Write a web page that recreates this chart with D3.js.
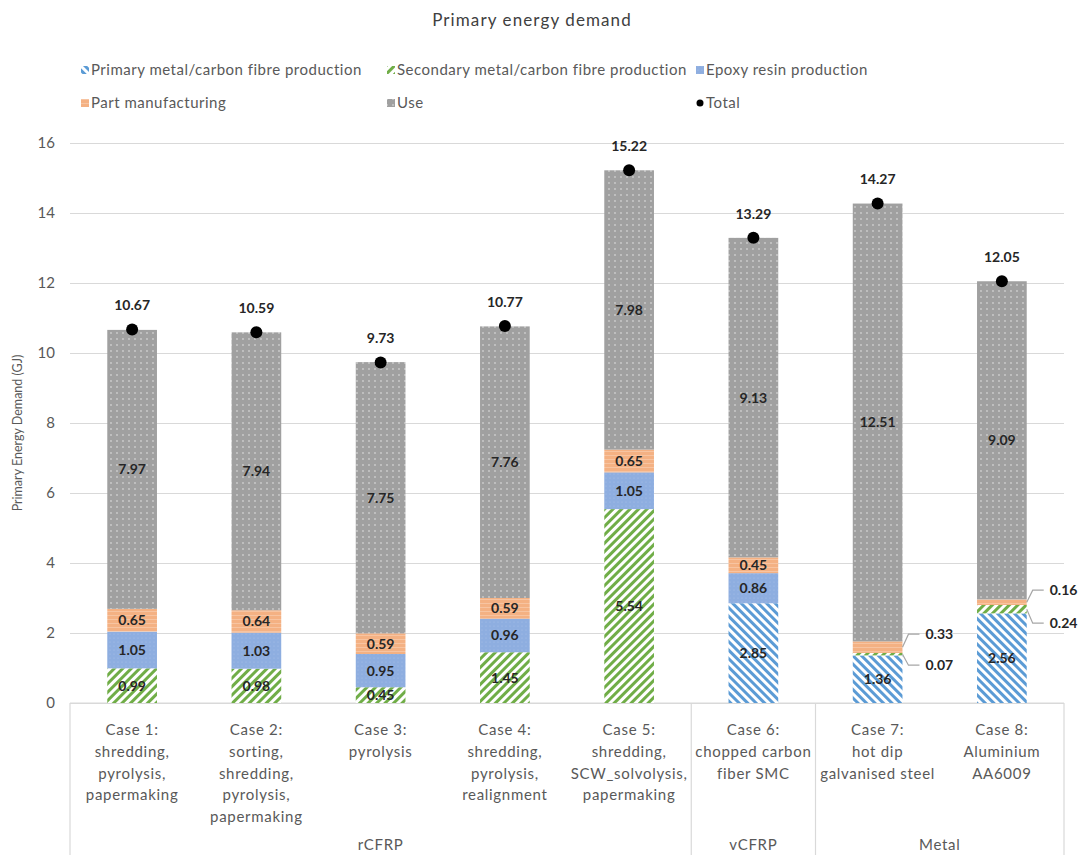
<!DOCTYPE html>
<html>
<head>
<meta charset="utf-8">
<script src="https://cdn.jsdelivr.net/npm/d3@7/dist/d3.min.js"></script>
<style>
  html, body { margin: 0; padding: 0; background: #fff; }
  svg { display: block; font-family: "Lato", "Open Sans", sans-serif; }
</style>
</head>
<body>
<svg id="chart" width="1081" height="855"></svg>
<script>
// ---- data -------------------------------------------------------------
const cases = ["Case 1", "Case 2", "Case 3", "Case 4", "Case 5", "Case 6", "Case 7", "Case 8"];
const caseLabels = [
  ["Case 1:", "shredding,", "pyrolysis,", "papermaking"],
  ["Case 2:", "sorting,", "shredding,", "pyrolysis,", "papermaking"],
  ["Case 3:", "pyrolysis"],
  ["Case 4:", "shredding,", "pyrolysis,", "realignment"],
  ["Case 5:", "shredding,", "SCW_solvolysis,", "papermaking"],
  ["Case 6:", "chopped carbon", "fiber SMC"],
  ["Case 7:", "hot dip", "galvanised steel"],
  ["Case 8:", "Aluminium", "AA6009"]
];
const groupNames = ["rCFRP", "vCFRP", "Metal"];
const groupOfCase = [0, 0, 0, 0, 0, 1, 2, 2];

const seriesNames = [
  "Primary metal/carbon fibre production",
  "Secondary metal/carbon fibre production",
  "Epoxy resin production",
  "Part manufacturing",
  "Use"
];
const primaryProduction   = [0, 0, 0, 0, 0, 2.85, 1.36, 2.56];
const secondaryProduction = [0.99, 0.98, 0.45, 1.45, 5.54, 0, 0.07, 0.24];
const epoxyProduction     = [1.05, 1.03, 0.95, 0.96, 1.05, 0.86, 0, 0];
const partManufacturing   = [0.65, 0.64, 0.59, 0.59, 0.65, 0.45, 0.33, 0.16];
const usePhase            = [7.97, 7.94, 7.75, 7.76, 7.98, 9.13, 12.51, 9.09];
const totals              = [10.67, 10.59, 9.73, 10.77, 15.22, 13.29, 14.27, 12.05];
const yTicks = [0, 2, 4, 6, 8, 10, 12, 14, 16];

// ---- layout -----------------------------------------------------------
const svg = d3.select("#chart");
const plot = { left: 70, right: 1064, top: 143, bottom: 703, boxBottom: 855 };
const textGrey = "#595959";
const gridGrey = "#d9d9d9";

const x = d3.scaleBand().domain(cases).range([plot.left, plot.right])
  .paddingInner(0.6).paddingOuter(0.3);
const y = d3.scaleLinear().domain([0, 16]).range([plot.bottom, plot.top]);
const step = x.step();
const slotLeft = c => x(c) - (step - x.bandwidth()) / 2;

// ---- fill patterns ----------------------------------------------------
const defs = svg.append("defs");
function stripes(id, color, angle) {
  const p = defs.append("pattern").attr("id", id).attr("patternUnits", "userSpaceOnUse")
    .attr("width", 6).attr("height", 6).attr("patternTransform", `rotate(${angle})`);
  p.append("rect").attr("width", 6).attr("height", 6).attr("fill", "#fff");
  p.append("rect").attr("width", 3).attr("height", 6).attr("fill", color);
}
stripes("pat-primary", "#5b9bd5", -45);
stripes("pat-secondary", "#70ad47", 45);

const pe = defs.append("pattern").attr("id", "pat-epoxy").attr("patternUnits", "userSpaceOnUse")
  .attr("width", 4).attr("height", 4);
pe.append("rect").attr("width", 4).attr("height", 4).attr("fill", "#8eaee0");
pe.append("circle").attr("cx", 2).attr("cy", 2).attr("r", 0.6).attr("fill", "#a9c1e8");

const pp = defs.append("pattern").attr("id", "pat-part").attr("patternUnits", "userSpaceOnUse")
  .attr("width", 4).attr("height", 4);
pp.append("rect").attr("width", 4).attr("height", 4).attr("fill", "#f4b183");
pp.append("rect").attr("y", 3).attr("width", 4).attr("height", 1).attr("fill", "#f7c4a1");

const pu = defs.append("pattern").attr("id", "pat-use").attr("patternUnits", "userSpaceOnUse")
  .attr("width", 6).attr("height", 6);
pu.append("rect").attr("width", 6).attr("height", 6).attr("fill", "#a0a0a0");
pu.append("circle").attr("cx", 3).attr("cy", 3).attr("r", 0.9).attr("fill", "#cdcdcd");

const seriesFill = ["url(#pat-primary)", "url(#pat-secondary)", "url(#pat-epoxy)", "url(#pat-part)", "url(#pat-use)"];

// ---- title --------------------------------------------------------------
svg.append("text").attr("x", 532).attr("y", 26).attr("text-anchor", "middle")
  .attr("font-size", 17).attr("letter-spacing", 1.1).attr("fill", "#404040")
  .text("Primary energy demand");

// ---- legend -------------------------------------------------------------
const legendItems = seriesNames.map((n, i) => ({ name: n, fill: seriesFill[i] }))
  .concat([{ name: "Total", dot: true }]);
const legendCols = [82, 388, 697], legendRows = [70, 103];
legendItems.forEach((d, i) => {
  const lx = legendCols[i % 3], ly = legendRows[Math.floor(i / 3)];
  if (d.dot) {
    svg.append("circle").attr("cx", lx + 3).attr("cy", ly).attr("r", 3.5).attr("fill", "#000");
  } else {
    svg.append("rect").attr("x", lx - 1).attr("y", ly - 4).attr("width", 8).attr("height", 8)
      .attr("fill", d.fill);
  }
  svg.append("text").attr("x", lx + 9).attr("y", ly).attr("dy", "0.35em")
    .attr("font-size", 15).attr("letter-spacing", 0.5).attr("fill", textGrey).text(d.name);
});

// ---- grid & y axis ------------------------------------------------------
const yAxis = svg.append("g").attr("transform", `translate(${plot.left},0)`)
  .call(d3.axisLeft(y).tickValues(yTicks).tickSize(-(plot.right - plot.left)).tickPadding(15));
yAxis.select(".domain").remove();
yAxis.selectAll(".tick line").attr("stroke", gridGrey).attr("stroke-width", 1.2);
yAxis.selectAll(".tick text").attr("fill", textGrey).attr("font-size", 15)
  .attr("font-family", "Lato, sans-serif");

svg.append("text")
  .attr("transform", `translate(22,${(plot.top + plot.bottom) / 2 + 10}) rotate(-90)`)
  .attr("text-anchor", "middle").attr("font-size", 12.5).attr("fill", textGrey)
  .text("Primary Energy Demand (GJ)");

// ---- category box -------------------------------------------------------
const box = svg.append("g").attr("stroke", gridGrey).attr("stroke-width", 1.2);
box.append("line").attr("x1", plot.left).attr("x2", plot.right)
  .attr("y1", plot.bottom).attr("y2", plot.bottom);
const groupStarts = groupNames.map((g, gi) => cases.filter((c, i) => groupOfCase[i] === gi));
const boundaries = [plot.left].concat(groupStarts.slice(1).map(g => slotLeft(g[0]))).concat([plot.right]);
boundaries.forEach(bx => box.append("line").attr("x1", bx).attr("x2", bx)
  .attr("y1", plot.bottom).attr("y2", plot.boxBottom));

cases.forEach((c, i) => {
  const t = svg.append("text").attr("text-anchor", "middle").attr("font-size", 15)
    .attr("letter-spacing", 0.7).attr("fill", textGrey);
  caseLabels[i].forEach((line, k) => {
    t.append("tspan").attr("x", x(c) + x.bandwidth() / 2).attr("y", 735 + k * 21.8).text(line);
  });
});
groupStarts.forEach((g, gi) => {
  const x0 = boundaries[gi], x1 = boundaries[gi + 1];
  svg.append("text").attr("x", (x0 + x1) / 2).attr("y", 850).attr("text-anchor", "middle")
    .attr("font-size", 15).attr("letter-spacing", 0.7).attr("fill", textGrey).text(groupNames[gi]);
});

// ---- stacked bars -------------------------------------------------------
const keys = ["primary", "secondary", "epoxy", "part", "use"];
const rows = cases.map((c, i) => ({
  case: c, primary: primaryProduction[i], secondary: secondaryProduction[i],
  epoxy: epoxyProduction[i], part: partManufacturing[i], use: usePhase[i]
}));
const stacked = d3.stack().keys(keys)(rows);

const layers = svg.append("g").selectAll("g").data(stacked).join("g")
  .attr("fill", (d, i) => seriesFill[i]);
layers.selectAll("rect").data(d => d.filter(s => s[1] - s[0] > 0)).join("rect")
  .attr("x", d => x(d.data.case)).attr("width", x.bandwidth())
  .attr("y", d => y(d[1])).attr("height", d => y(d[0]) - y(d[1]));

// segments too thin to hold their label get a leader line to the right
const calloutSegments = { "Case 7": { part: -13, secondary: 11 }, "Case 8": { part: -12, secondary: 14 } };

const labels = svg.append("g").attr("font-size", 14).attr("font-weight", "bold").attr("fill", "#262626");
stacked.forEach(layer => {
  layer.forEach(s => {
    const v = s.data[layer.key];
    if (!(v > 0)) return;
    const cx = x(s.data.case) + x.bandwidth() / 2;
    const cy = (y(s[0]) + y(s[1])) / 2;
    const call = calloutSegments[s.data.case] && calloutSegments[s.data.case][layer.key];
    if (call !== undefined) {
      const xr = x(s.data.case) + x.bandwidth();
      const ly = cy + call;
      svg.append("path")
        .attr("d", `M${xr},${cy}L${xr + 6},${ly}L${xr + 17},${ly}`)
        .attr("fill", "none").attr("stroke", "#a6a6a6").attr("stroke-width", 1.2);
      labels.append("text").attr("x", xr + 23).attr("y", ly).attr("dy", "0.35em")
        .text(v.toFixed(2));
    } else {
      labels.append("text").attr("x", cx).attr("y", cy).attr("dy", "0.35em")
        .attr("text-anchor", "middle").text(v.toFixed(2));
    }
  });
});

// ---- totals -------------------------------------------------------------
cases.forEach((c, i) => {
  const cx = x(c) + x.bandwidth() / 2;
  svg.append("circle").attr("cx", cx).attr("cy", y(totals[i])).attr("r", 6).attr("fill", "#000");
  labels.append("text").attr("x", cx).attr("y", y(totals[i]) - 24).attr("dy", "0.35em")
    .attr("text-anchor", "middle").text(totals[i].toFixed(2));
});
</script>
</body>
</html>
